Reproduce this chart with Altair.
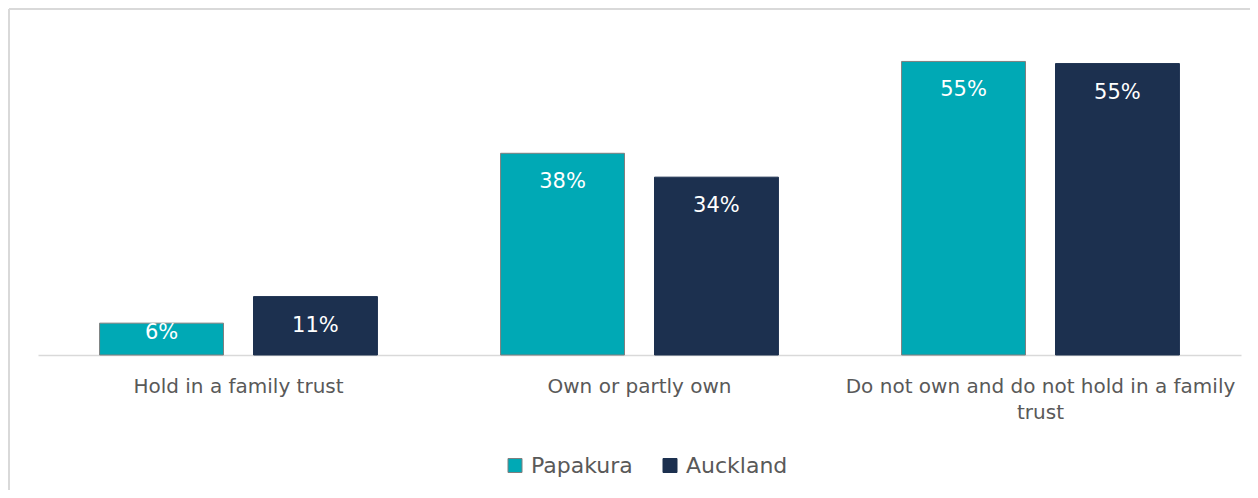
import altair as alt
import pandas as pd

categories = ["Hold in a family trust", "Own or partly own",
              "Do not own and do not hold in a family trust"]
series = ["Papakura", "Auckland"]
papakura = [6, 38, 55.3]
auckland = [11, 33.5, 54.9]
papakura_labels = ["6%", "38%", "55%"]
auckland_labels = ["11%", "34%", "55%"]

rows = []
for c, v, l in zip(categories, papakura, papakura_labels):
    rows.append({"category": c, "series": "Papakura", "value": v, "label": l})
for c, v, l in zip(categories, auckland, auckland_labels):
    rows.append({"category": c, "series": "Auckland", "value": v, "label": l})
df = pd.DataFrame(rows)

FONT = "DejaVu Sans"
GRAY = "#595959"

x_enc = alt.X("category:N", sort=categories, title=None,
              scale=alt.Scale(paddingInner=0, paddingOuter=0),
              axis=alt.Axis(labelAngle=0, ticks=False, domainColor="#d9d9d9",
                            domainWidth=1.5, labelFont=FONT, labelFontSize=20,
                            labelColor=GRAY, labelBaseline="top", labelPadding=21,
                            labelLineHeight=26, labelLimit=500,
                            labelExpr="datum.label == 'Do not own and do not hold in a family trust' ? ['Do not own and do not hold in a family', 'trust'] : datum.label"))
xo_enc = alt.XOffset("series:N", sort=series,
                     scale=alt.Scale(paddingInner=0.195, paddingOuter=0.4))
y_enc = alt.Y("value:Q", axis=None, scale=alt.Scale(domain=[0, 60], nice=False))

base = alt.Chart(df).encode(x=x_enc, xOffset=xo_enc, y=y_enc)

legend_opts = dict(title=None, orient="none", direction="horizontal",
                   legendX=466, legendY=418, symbolType="square",
                   symbolSize=196, symbolStrokeWidth=1,
                   labelFont=FONT, labelFontSize=22, labelColor=GRAY,
                   labelOffset=5, columnPadding=26)

bars = base.mark_bar(strokeWidth=1).encode(
    color=alt.Color("series:N", sort=series,
                    scale=alt.Scale(domain=series, range=["#00A9B5", "#1C304F"]),
                    legend=alt.Legend(**legend_opts)),
    stroke=alt.Stroke("series:N", sort=series,
                      scale=alt.Scale(domain=series, range=["#7f7f7f", "#1C304F"]),
                      legend=alt.Legend(**legend_opts)),
)

text_hi = base.transform_filter("datum.value >= 8").mark_text(
    baseline="top", dy=18, font=FONT, fontSize=21, color="white").encode(text="label:N")
text_lo = base.transform_filter("datum.value < 8").mark_text(
    baseline="top", dy=-1, font=FONT, fontSize=21, color="white").encode(text="label:N")

frame = pd.DataFrame({"k": [0]})
left_border = alt.Chart(frame).mark_rule(color="#d9d9d9", strokeWidth=2).encode(
    x=alt.value(-29), y=alt.value(-27.5), y2=alt.value(500))
top_border = alt.Chart(frame).mark_rule(color="#d9d9d9", strokeWidth=2).encode(
    x=alt.value(-29), x2=alt.value(1300), y=alt.value(-27.5))

chart = alt.layer(left_border, top_border, bars, text_hi, text_lo).properties(
    width=1203, height=318.5,
    autosize=alt.AutoSizeParams(type="none"),
    padding={"left": 30, "top": 28.5, "right": 9, "bottom": 135},
).configure(background="white", view=alt.ViewConfig(stroke=None))

chart.save("out.html", embed_options={"renderer": "svg", "actions": False})
